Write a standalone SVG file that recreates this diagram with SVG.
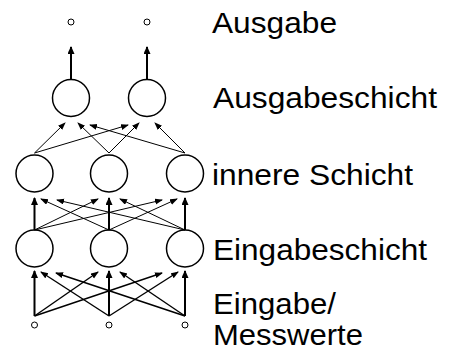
<svg xmlns="http://www.w3.org/2000/svg" width="450" height="354" viewBox="0 0 450 354">
<style>
.node{fill:none;stroke:#000;stroke-width:1.5}
.io{fill:none;stroke:#000;stroke-width:1}
.thick{stroke:#000;stroke-width:2;fill:none;marker-end:url(#ah)}
.mid{stroke:#000;stroke-width:1.4;fill:none;marker-end:url(#ahs)}
.thin{stroke:#000;stroke-width:1;fill:none;marker-end:url(#ahs)}
text{font-family:"Liberation Sans",Arial,sans-serif;font-size:30px;fill:#000}
</style>
<defs>
<marker id="ah" markerUnits="userSpaceOnUse" markerWidth="10" markerHeight="8" refX="7" refY="3.5" orient="auto"><path d="M0,0 L8,3.5 L0,7 z" fill="#000"/></marker>
<marker id="ahs" markerUnits="userSpaceOnUse" markerWidth="10" markerHeight="8" refX="7" refY="3" orient="auto"><path d="M0,0 L8,3 L0,6 z" fill="#000"/></marker>
</defs>
<g id="connectors">
<line class="thick" x1="71" y1="79" x2="71" y2="47"/>
<line class="thick" x1="147" y1="79" x2="147" y2="47"/>
<line class="thin" x1="34.5" y1="153" x2="65" y2="123"/>
<line class="thin" x1="109" y1="153" x2="78" y2="123"/>
<line class="thin" x1="185" y1="153" x2="90" y2="125"/>
<line class="thin" x1="34.5" y1="153" x2="128" y2="125"/>
<line class="thin" x1="109" y1="153" x2="139" y2="123"/>
<line class="thin" x1="185" y1="153" x2="155" y2="123"/>
<line class="thick" x1="34.5" y1="230" x2="34.5" y2="198"/>
<line class="thick" x1="109" y1="230" x2="109" y2="198"/>
<line class="thick" x1="185" y1="230" x2="185" y2="198"/>
<line class="thin" x1="109" y1="230" x2="41" y2="199"/>
<line class="thin" x1="185" y1="230" x2="57" y2="200"/>
<line class="thin" x1="34.5" y1="230" x2="98" y2="199"/>
<line class="thin" x1="185" y1="230" x2="120" y2="199"/>
<line class="thin" x1="34.5" y1="230" x2="162" y2="200"/>
<line class="thin" x1="109" y1="230" x2="177" y2="199"/>
<line class="thick" x1="34.5" y1="316" x2="34.5" y2="271"/>
<line class="thick" x1="109" y1="316" x2="109" y2="271"/>
<line class="thick" x1="185" y1="316" x2="185" y2="271"/>
<line class="mid" x1="109" y1="316" x2="41" y2="272"/>
<line class="mid" x1="185" y1="316" x2="56" y2="273"/>
<line class="mid" x1="34.5" y1="316" x2="98" y2="272"/>
<line class="mid" x1="185" y1="316" x2="120" y2="272"/>
<line class="mid" x1="34.5" y1="316" x2="162" y2="273"/>
<line class="mid" x1="109" y1="316" x2="178" y2="272"/>
</g>
<g id="out1"><circle class="io" cx="71" cy="22" r="3"/></g>
<g id="out2"><circle class="io" cx="147" cy="22" r="3"/></g>
<g id="o1"><circle class="node" cx="71" cy="98" r="18.5"/></g>
<g id="o2"><circle class="node" cx="147" cy="98" r="18.5"/></g>
<g id="h1"><circle class="node" cx="34.5" cy="173.5" r="18.5"/></g>
<g id="h2"><circle class="node" cx="109" cy="173.5" r="18.5"/></g>
<g id="h3"><circle class="node" cx="185" cy="173.5" r="18.5"/></g>
<g id="i1"><circle class="node" cx="34.5" cy="248.5" r="18.5"/></g>
<g id="i2"><circle class="node" cx="109" cy="248.5" r="18.5"/></g>
<g id="i3"><circle class="node" cx="185" cy="248.5" r="18.5"/></g>
<g id="in1"><circle class="io" cx="34.5" cy="325" r="3"/></g>
<g id="in2"><circle class="io" cx="109" cy="325" r="3"/></g>
<g id="in3"><circle class="io" cx="185" cy="325" r="3"/></g>
<g id="labels">
<text x="212" y="33" textLength="125" lengthAdjust="spacingAndGlyphs">Ausgabe</text>
<text x="213" y="108" textLength="224" lengthAdjust="spacingAndGlyphs">Ausgabeschicht</text>
<text x="212" y="185" textLength="201" lengthAdjust="spacingAndGlyphs">innere Schicht</text>
<text x="213" y="260" textLength="214" lengthAdjust="spacingAndGlyphs">Eingabeschicht</text>
<text x="213" y="314" textLength="123" lengthAdjust="spacingAndGlyphs">Eingabe/</text>
<text x="213" y="345" textLength="150" lengthAdjust="spacingAndGlyphs">Messwerte</text>
</g>
</svg>
